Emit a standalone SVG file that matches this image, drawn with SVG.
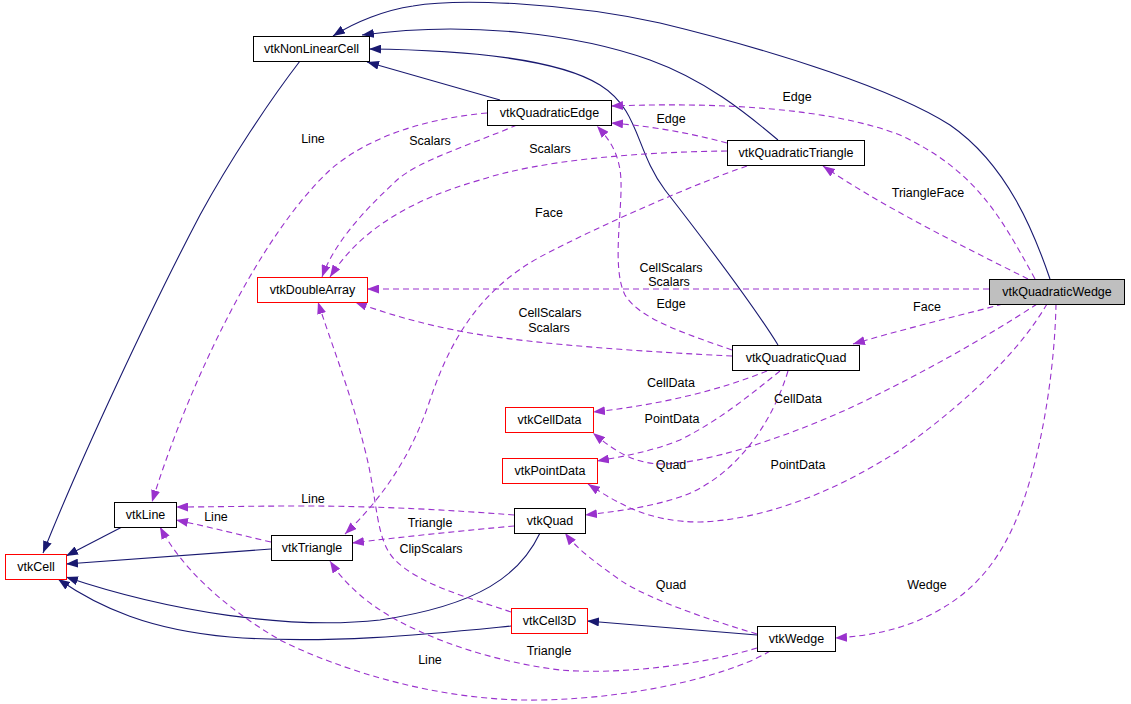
<svg xmlns="http://www.w3.org/2000/svg" width="1131" height="704" viewBox="0 0 1131 704">
<style>
.box{fill:#ffffff;stroke:#000000;stroke-width:1}
.red{fill:#ffffff;stroke:#ff0000;stroke-width:1}
.gray{fill:#bfbfbf;stroke:#000000;stroke-width:1}
.nt{font-family:"Liberation Sans",Arial,Helvetica,sans-serif;font-size:12.5px;fill:#000000;text-anchor:middle}
.lb{font-family:"Liberation Sans",Arial,Helvetica,sans-serif;font-size:12.5px;fill:#000000;text-anchor:middle}
.inh{fill:none;stroke:#191970;stroke-width:1.1;marker-end:url(#an)}
.use{fill:none;stroke:#9a32cd;stroke-width:1.1;stroke-dasharray:6,4;marker-end:url(#ap)}
</style>
<defs>
<marker id="an" markerUnits="userSpaceOnUse" markerWidth="12" markerHeight="9" viewBox="0 0 12 9" refX="12" refY="4.5" orient="auto">
<path d="M0,0 L12,4.5 L0,9 z" fill="#191970"/>
</marker>
<marker id="ap" markerUnits="userSpaceOnUse" markerWidth="12" markerHeight="9" viewBox="0 0 12 9" refX="12" refY="4.5" orient="auto">
<path d="M0,0 L12,4.5 L0,9 z" fill="#9a32cd"/>
</marker>
</defs>
<rect width="1131" height="704" fill="#ffffff"/>
<g id="connectors">
<path class="inh" d="M1050,279 C1035,235 1008,165 950,125 C895,90 780,52 660,23 C570,3 460,-2 413,6 C385,10 355,22 333,36"/>
<path class="inh" d="M778,140 C745,112 705,80 650,60 C580,35 470,20 362,35"/>
<path class="inh" d="M778,345 C750,300 700,235 665,190 C635,150 640,110 600,85 C560,60 470,50 369,49"/>
<path class="inh" d="M500,100 L367,62"/>
<path class="inh" d="M300,61 C270,100 230,160 200,215 C150,310 80,460 43,553"/>
<path class="inh" d="M122,527 L66,556"/>
<path class="inh" d="M271,549 L66,564"/>
<path class="inh" d="M540,533 C520,575 480,605 380,620 C290,630 170,612 66,577"/>
<path class="inh" d="M511,626 C440,633 330,645 230,637 C150,630 100,608 58,579"/>
<path class="inh" d="M757,635 L587,621"/>

<path class="use" d="M1035,279 C1000,215 975,170 900,135 C830,108 720,102 611,106"/>
<path class="use" d="M727,143 C690,133 650,126 611,123"/>
<path class="use" d="M727,151 C640,152 540,160 480,180 C410,200 360,230 330,277"/>
<path class="use" d="M517,125 C470,145 420,160 397,180 C370,205 335,240 322,277"/>
<path class="use" d="M487,113 C430,118 370,135 330,170 C260,235 190,380 152,502"/>
<path class="use" d="M747,166 C700,182 600,225 540,257 C480,290 450,340 430,400 C410,460 380,500 345,534"/>
<path class="use" d="M1028,279 C960,245 880,205 823,166"/>
<path class="use" d="M989,289 L367,289"/>
<path class="use" d="M732,350 C690,335 640,320 625,295 C610,265 625,200 620,170 C617,150 608,138 597,126"/>
<path class="use" d="M732,356 C650,352 540,345 470,333 C420,324 385,313 355,302"/>
<path class="use" d="M1003,304 C950,318 900,330 853,344"/>
<path class="use" d="M767,371 C720,390 660,405 593,412"/>
<path class="use" d="M780,371 C750,395 720,420 680,440 C650,452 620,457 597,461"/>
<path class="use" d="M788,371 C770,430 730,480 680,497 C650,507 620,511 585,515"/>
<path class="use" d="M1037,304 C990,335 920,375 850,408 C780,440 700,465 660,464 C630,463 610,447 593,433"/>
<path class="use" d="M1047,304 C1020,350 970,400 900,450 C830,495 760,520 700,522 C650,522 620,505 588,484"/>
<path class="use" d="M1056,304 C1055,360 1045,430 1030,480 C1010,550 980,590 930,615 C900,630 870,636 835,638"/>
<path class="use" d="M757,634 C710,620 650,600 620,580 C595,562 578,550 565,533"/>
<path class="use" d="M757,648 C700,665 620,675 560,670 C480,660 400,630 360,595 C345,582 337,572 330,561"/>
<path class="use" d="M770,651 C740,670 650,698 540,700 C440,702 340,670 280,640 C220,605 180,565 160,527"/>
<path class="use" d="M511,612 C470,598 420,585 395,560 C375,540 378,500 365,450 C350,390 330,340 318,302"/>
<path class="use" d="M514,515 C450,510 380,506 300,506 C250,506 210,507 176,507"/>
<path class="use" d="M271,542 C240,535 210,527 176,520"/>
<path class="use" d="M514,526 C470,530 400,537 352,543"/>

<text class="lb" x="797" y="101">Edge</text>
<text class="lb" x="671" y="123">Edge</text>
<text class="lb" x="313" y="143">Line</text>
<text class="lb" x="430" y="145">Scalars</text>
<text class="lb" x="550" y="153">Scalars</text>
<text class="lb" x="549" y="217">Face</text>
<text class="lb" x="928" y="197">TriangleFace</text>
<text class="lb" x="671" y="272">CellScalars</text>
<text class="lb" x="669" y="286">Scalars</text>
<text class="lb" x="671" y="308">Edge</text>
<text class="lb" x="927" y="311">Face</text>
<text class="lb" x="550" y="317">CellScalars</text>
<text class="lb" x="549" y="332">Scalars</text>
<text class="lb" x="671" y="387">CellData</text>
<text class="lb" x="672" y="423">PointData</text>
<text class="lb" x="671" y="469">Quad</text>
<text class="lb" x="798" y="403">CellData</text>
<text class="lb" x="798" y="469">PointData</text>
<text class="lb" x="313" y="503">Line</text>
<text class="lb" x="216" y="521">Line</text>
<text class="lb" x="430" y="527">Triangle</text>
<text class="lb" x="431" y="553">ClipScalars</text>
<text class="lb" x="671" y="589">Quad</text>
<text class="lb" x="927" y="589">Wedge</text>
<text class="lb" x="549" y="655">Triangle</text>
<text class="lb" x="430" y="664">Line</text>
</g>
<g id="vtkNonLinearCell"><rect class="box" x="253.5" y="36.5" width="116" height="25"/><text class="nt" x="311.5" y="53">vtkNonLinearCell</text></g>
<g id="vtkQuadraticEdge"><rect class="box" x="487.5" y="100.5" width="124" height="25"/><text class="nt" x="549.5" y="117">vtkQuadraticEdge</text></g>
<g id="vtkQuadraticTriangle"><rect class="box" x="727.5" y="140.5" width="137" height="25"/><text class="nt" x="796" y="157">vtkQuadraticTriangle</text></g>
<g id="vtkDoubleArray"><rect class="red" x="257.5" y="277.5" width="110" height="25"/><text class="nt" x="312.5" y="294">vtkDoubleArray</text></g>
<g id="vtkQuadraticWedge"><rect class="gray" x="989.5" y="279.5" width="135" height="25"/><text class="nt" x="1057" y="296">vtkQuadraticWedge</text></g>
<g id="vtkQuadraticQuad"><rect class="box" x="732.5" y="345.5" width="127" height="25"/><text class="nt" x="796" y="362">vtkQuadraticQuad</text></g>
<g id="vtkCellData"><rect class="red" x="505.5" y="407.5" width="88" height="25"/><text class="nt" x="549.5" y="424">vtkCellData</text></g>
<g id="vtkPointData"><rect class="red" x="502.5" y="458.5" width="95" height="25"/><text class="nt" x="550" y="475">vtkPointData</text></g>
<g id="vtkQuad"><rect class="box" x="514.5" y="508.5" width="71" height="25"/><text class="nt" x="550" y="525">vtkQuad</text></g>
<g id="vtkLine"><rect class="box" x="114.5" y="502.5" width="62" height="25"/><text class="nt" x="145.5" y="519">vtkLine</text></g>
<g id="vtkTriangle"><rect class="box" x="271.5" y="535.5" width="81" height="25"/><text class="nt" x="312" y="552">vtkTriangle</text></g>
<g id="vtkCell"><rect class="red" x="5.5" y="554.5" width="61" height="25"/><text class="nt" x="36" y="571">vtkCell</text></g>
<g id="vtkCell3D"><rect class="red" x="511.5" y="608.5" width="76" height="25"/><text class="nt" x="549.5" y="625">vtkCell3D</text></g>
<g id="vtkWedge"><rect class="box" x="757.5" y="626.5" width="78" height="25"/><text class="nt" x="796.5" y="643">vtkWedge</text></g>
</svg>
